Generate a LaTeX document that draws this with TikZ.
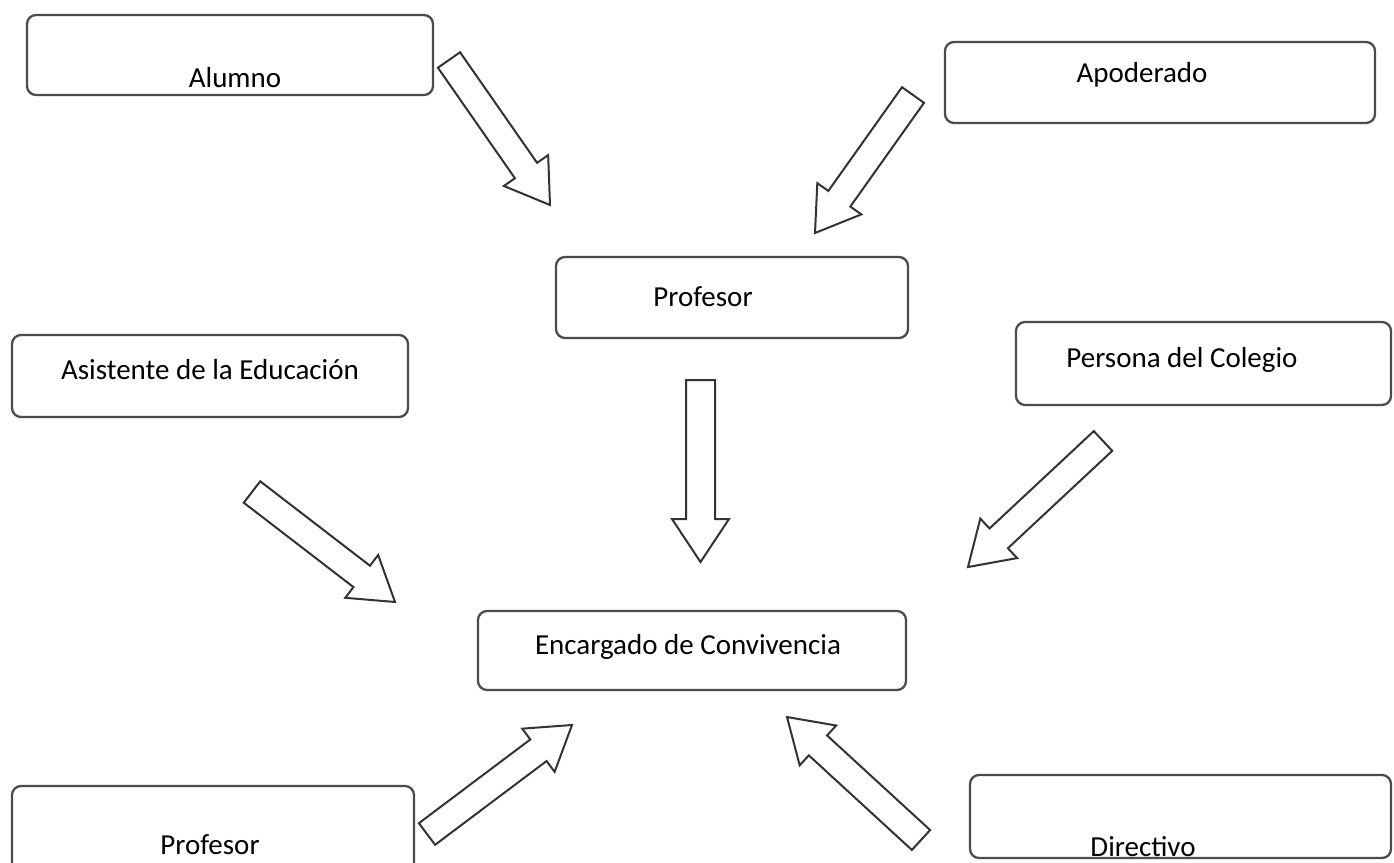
\documentclass[tikz,border=0pt]{standalone}
\usepackage{fontspec}
\setmainfont{Carlito}
\usetikzlibrary{calc}

% hollow block arrow: tail centre, tip, shaft half-width, head half-width, head length
\newcommand{\blockarrow}[5]{%
  \draw[barrow]
    ($(#1)!#3!90:(#2)$) --
    ($($(#2)!#5!(#1)$)!#3!90:(#2)$) --
    ($($(#2)!#5!(#1)$)!#4!90:(#2)$) --
    (#2) --
    ($($(#2)!#5!(#1)$)!#4!-90:(#2)$) --
    ($($(#2)!#5!(#1)$)!#3!-90:(#2)$) --
    ($(#1)!#3!-90:(#2)$) -- cycle;}

\begin{document}
\begin{tikzpicture}[x=1pt,y=-1pt,
  box/.style={draw=black!70,line width=2.3pt,rounded corners=9pt},
  lbl/.style={font=\fontsize{29}{33}\selectfont,text=black,inner sep=0pt},
  barrow/.style={draw=black!80,line width=2pt,fill=white,line join=miter}]
  \clip (0,0) rectangle (1394,862);
  \fill[white] (0,0) rectangle (1394,862);

  % boxes
  \draw[box] (27,15) rectangle (433,95);
  \node[lbl] (alumno) at (235,78) {Alumno};
  \draw[box] (945,42) rectangle (1375,123);
  \node[lbl] (apoderado) at (1142,75) {Apoderado};
  \draw[box] (556,257) rectangle (908,338);
  \node[lbl] (profesor) at (703,297) {Profesor};
  \draw[box] (1016,322) rectangle (1391,405);
  \node[lbl] (persona) at (1182,360) {Persona del Colegio};
  \draw[box] (12,335) rectangle (408,417);
  \node[lbl] (asistente) at (210,370) {Asistente de la Educación};
  \draw[box] (478,611) rectangle (906,690);
  \node[lbl] (encargado) at (688,647) {Encargado de Convivencia};
  \draw[box] (12,786) rectangle (414,880);
  \node[lbl] (profesorB) at (210,845) {Profesor};
  \draw[box] (970,775) rectangle (1391,858);
  \node[lbl] (directivo) at (1143,847) {Directivo};

  % arrow end points
  \coordinate (a1t) at (449,60);   \coordinate (a1h) at (550,205);
  \coordinate (a2t) at (913,95);   \coordinate (a2h) at (815,233);
  \coordinate (a3t) at (700.5,380);\coordinate (a3h) at (700.5,562);
  \coordinate (a4t) at (252,492);  \coordinate (a4h) at (395,602);
  \coordinate (a5t) at (1103,441); \coordinate (a5h) at (968,567);
  \coordinate (a6t) at (427,834);  \coordinate (a6h) at (572,725);
  \coordinate (a7t) at (921,840);  \coordinate (a7h) at (787,717);

  % block arrows
  \blockarrow{a1t}{a1h}{13.5pt}{27pt}{42pt}
  \blockarrow{a2t}{a2h}{13.5pt}{27pt}{42pt}
  \blockarrow{a3t}{a3h}{14.5pt}{28.5pt}{43pt}
  \blockarrow{a4t}{a4h}{13.5pt}{27pt}{42pt}
  \blockarrow{a5t}{a5h}{13.5pt}{27pt}{42pt}
  \blockarrow{a6t}{a6h}{13.5pt}{27pt}{42pt}
  \blockarrow{a7t}{a7h}{13.5pt}{27pt}{42pt}
\end{tikzpicture}
\end{document}
